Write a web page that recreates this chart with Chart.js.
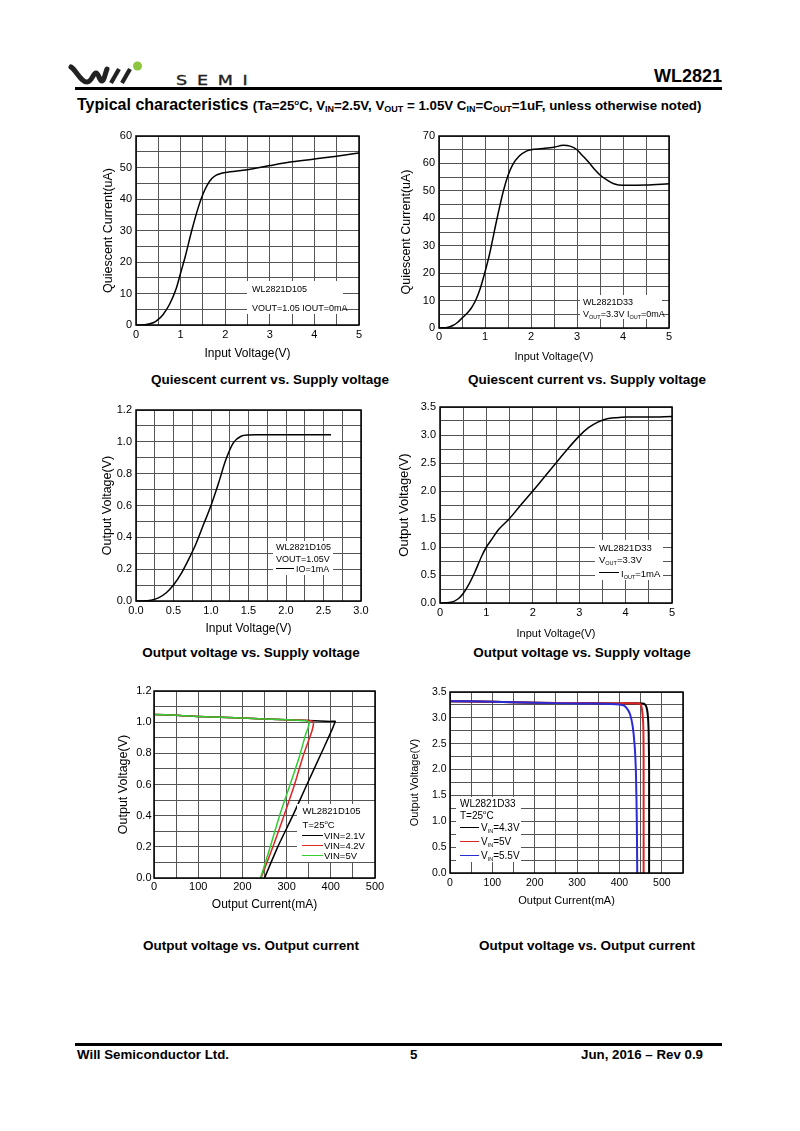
<!DOCTYPE html>
<html><head><meta charset="utf-8">
<script src="https://cdn.jsdelivr.net/npm/chart.js@4.4.1/dist/chart.umd.min.js"></script>
<style>
body{margin:0;background:#fff;}
#page{position:relative;width:800px;height:1131px;font-family:"Liberation Sans",Arial,sans-serif;color:#000;overflow:hidden;background:#fff;}
.abs{position:absolute;}
canvas{position:absolute;}
.cap{position:absolute;font-weight:bold;font-size:13.5px;transform:translate(-50%,-50%);white-space:nowrap;}
.lgt{position:absolute;white-space:nowrap;transform:translateY(-50%);line-height:1;z-index:5;}
.lgl{position:absolute;height:0;z-index:5;}
.sb{font-size:5.5px;position:relative;top:2px;}
.hs{font-size:9px;vertical-align:-2px;}
</style>
</head>
<body>
<div id="page">
  <svg class="abs" style="left:0;top:0" width="260" height="95">
    <path d="M71,67 C76,70 81,82 87,82 C92,82 93,73 96,73 C99,73 99,81 102,81 C104,81 105,74 107,69" fill="none" stroke="#222" stroke-width="5" stroke-linecap="round" stroke-linejoin="round"/>
    <line x1="111" y1="83" x2="119" y2="69" stroke="#222" stroke-width="4.2"/>
    <line x1="122" y1="83" x2="130" y2="69" stroke="#222" stroke-width="4.2"/>
    <circle cx="137.5" cy="66" r="4.5" fill="#8cc63f"/>
    <text transform="translate(176,84.5) scale(1.3,1)" font-family="DejaVu Sans" font-size="13.5" letter-spacing="7.5" fill="#222" stroke="#222" stroke-width="0.3">SEMI</text>
  </svg>
  <div class="abs" style="right:78px;top:66px;font-weight:bold;font-size:18px;">WL2821</div>
  <div class="abs" style="left:75px;top:87px;width:647px;height:3px;background:#000;"></div>
  <div class="abs" style="left:77px;top:96px;font-weight:bold;white-space:nowrap;">
    <span style="font-size:16px;">Typical characteristics</span>
    <span style="font-size:13.3px;">(Ta=25<sup style="font-size:8px;">o</sup>C, V<span class="hs">IN</span>=2.5V, V<span class="hs">OUT</span> = 1.05V C<span class="hs">IN</span>=C<span class="hs">OUT</span>=1uF, unless otherwise noted)</span>
  </div>

  <div class="cap" style="left:270px;top:379px;">Quiescent current vs. Supply voltage</div>
  <div class="cap" style="left:587px;top:379px;">Quiescent current vs. Supply voltage</div>
  <div class="cap" style="left:251px;top:652px;">Output voltage vs. Supply voltage</div>
  <div class="cap" style="left:582px;top:652px;">Output voltage vs. Supply voltage</div>
  <div class="cap" style="left:251px;top:945px;">Output voltage vs. Output current</div>
  <div class="cap" style="left:587px;top:945px;">Output voltage vs. Output current</div>

  <div class="abs" style="left:75px;top:1043px;width:647px;height:3px;background:#000;"></div>
  <div class="abs" style="left:77px;top:1047px;font-weight:bold;font-size:13.3px;">Will Semiconductor Ltd.</div>
  <div class="abs" style="left:410px;top:1047px;font-weight:bold;font-size:13.3px;">5</div>
  <div class="abs" style="right:97px;top:1047px;font-weight:bold;font-size:13.3px;">Jun, 2016 – Rev 0.9</div>
</div>
<script>
// ---------- DATA ----------
// Chart 1: WL2821D105 quiescent current vs input voltage
const c1_vin = [0,0.2,0.4,0.5,0.6,0.75,0.9,1.0,1.1,1.25,1.4,1.5,1.6,1.7,1.8,1.9,2.0,2.5,3.0,3.5,4.0,4.5,5.0];
const c1_iq  = [0,0.1,0.8,1.8,3.2,6.5,11.5,16.5,21.5,30,37.5,41.5,44.5,46.5,47.6,48.1,48.4,49.3,50.6,51.8,52.7,53.6,54.6];
const c1_xLabels = ['0','1','2','3','4','5'];
const c1_yLabels = ['0','10','20','30','40','50','60'];

// Chart 2: WL2821D33 quiescent current vs input voltage
const c2_vin = [0,0.2,0.3,0.4,0.5,0.6,0.7,0.8,0.9,1.0,1.1,1.25,1.4,1.5,1.6,1.75,1.9,2.0,2.25,2.5,2.7,2.85,3.0,3.1,3.25,3.4,3.5,3.65,3.8,4.0,4.5,5.0];
const c2_iq  = [0,0.3,0.9,2.0,3.6,5.2,7.2,10.2,14.6,20.4,27,39,50,55.6,59.5,62.8,64.5,65,65.4,65.9,66.6,66.3,65,63.2,60.5,57.5,55.8,54,52.6,52,52.1,52.6];
const c2_xLabels = ['0','1','2','3','4','5'];
const c2_yLabels = ['0','10','20','30','40','50','60','70'];

// Chart 3: WL2821D105 output voltage vs input voltage
const c3_vin  = [0,0.1,0.2,0.3,0.4,0.5,0.6,0.7,0.8,0.9,1.0,1.1,1.2,1.3,1.4,1.5,1.6,2.0,2.6];
const c3_vout = [0,0,0.005,0.02,0.05,0.1,0.17,0.26,0.36,0.48,0.6,0.74,0.89,0.995,1.035,1.043,1.044,1.044,1.044];
const c3_xLabels = ['0.0','0.5','1.0','1.5','2.0','2.5','3.0'];
const c3_yLabels = ['0.0','0.2','0.4','0.6','0.8','1.0','1.2'];

// Chart 4: WL2821D33 output voltage vs input voltage
const c4_vin  = [0,0.2,0.3,0.4,0.5,0.6,0.75,0.9,1.0,1.1,1.25,1.5,1.75,2.0,2.25,2.5,2.75,3.0,3.2,3.4,3.6,3.8,4.0,4.5,5.0];
const c4_vout = [0,0.01,0.03,0.08,0.17,0.3,0.55,0.84,1.0,1.12,1.3,1.51,1.76,2.0,2.25,2.5,2.75,2.98,3.13,3.23,3.29,3.31,3.32,3.32,3.33];
const c4_xLabels = ['0','1','2','3','4','5'];
const c4_yLabels = ['0.0','0.5','1.0','1.5','2.0','2.5','3.0','3.5'];

// Chart 5: WL2821D105 output voltage vs output current
const c5_names = ['VIN=2.1V','VIN=4.2V','VIN=5V'];
const c5_i21 = [0,50,100,200,300,350,400,410,380,346,314,280,250];
const c5_v21 = [1.05,1.045,1.036,1.026,1.016,1.01,1.005,1.004,0.81,0.6,0.4,0.2,0];
const c5_i42 = [0,50,100,200,300,350,357,361,358,352,337,318,294,269,242];
const c5_v42 = [1.05,1.045,1.036,1.026,1.016,1.01,1.008,1.0,0.95,0.9,0.78,0.6,0.4,0.2,0];
const c5_i5  = [0,50,100,200,300,340,349,351,348,344,329,308,284,263,241];
const c5_v5  = [1.05,1.045,1.036,1.026,1.016,1.01,1.004,0.99,0.96,0.93,0.78,0.6,0.4,0.2,0];
const c5_xLabels = ['0','100','200','300','400','500'];
const c5_yLabels = ['0.0','0.2','0.4','0.6','0.8','1.0','1.2'];

// Chart 6: WL2821D33 output voltage vs output current
const c6_names = ['VIN=4.3V','VIN=5V','VIN=5.5V'];
const c6_i43 = [0,100,200,300,400,455,460,464,467,469,470,470];
const c6_v43 = [3.32,3.31,3.29,3.285,3.28,3.28,3.26,3.2,3.05,2.7,2.0,0];
const c6_i5  = [0,100,200,300,400,445,450,453,456,457,457];
const c6_v5  = [3.32,3.31,3.29,3.285,3.28,3.28,3.26,3.18,2.9,2.3,0];
const c6_i55 = [0,50,100,150,200,300,380,400,410,418,425,431,436,439,441,442];
const c6_v55 = [3.32,3.32,3.31,3.30,3.29,3.28,3.27,3.26,3.24,3.18,3.07,2.85,2.45,1.9,1.0,0];
const c6_xLabels = ['0','100','200','300','400','500'];
const c6_yLabels = ['0.0','0.5','1.0','1.5','2.0','2.5','3.0','3.5'];

// ---------- RENDERING ----------
const FONT = '"Liberation Sans", Arial, sans-serif';
const page = document.getElementById('page');
const pts = (xs, ys) => xs.map((x, i) => ({x: x, y: ys[i]}));
const labelCb = (labels) => (v) => {
  const f = labels.find(l => Math.abs(parseFloat(l) - v) < 1e-6);
  return f === undefined ? '' : f;
};
const framePlugin = {
  id: 'frame',
  afterDatasetsDraw(chart, args, opts) {
    const b = opts.box;
    if (!b) return;
    const ctx = chart.ctx;
    ctx.save();
    ctx.fillStyle = '#fff';
    ctx.fillRect(b[0], b[1], b[2], b[3]);
    ctx.restore();
  },
  afterDraw(chart) {
    const {ctx, chartArea: a} = chart;
    ctx.save();
    ctx.strokeStyle = '#000';
    ctx.lineWidth = 1.5;
    ctx.strokeRect(a.left, a.top, a.right - a.left, a.bottom - a.top);
    ctx.restore();
  }
};

function makeChart(c) {
  const ylh = c.yTitleSize * 1.2, xlh = c.xTitleSize * 1.2;
  const left = Math.round(c.yTitleX - ylh / 2);
  const bottom = Math.round(c.xTitleY + xlh / 2);
  const top = c.plot.t - 12;
  const right = c.plot.r + 18;
  const yAxisW = c.plot.l - left;
  const xAxisH = bottom - c.plot.b;
  const cv = document.createElement('canvas');
  cv.width = right - left; cv.height = bottom - top;
  cv.style.left = left + 'px'; cv.style.top = top + 'px';
  cv.style.width = (right - left) + 'px'; cv.style.height = (bottom - top) + 'px';
  page.insertBefore(cv, page.firstChild);
  const gridCol = '#555';
  const box = c.box ? [c.box[0] - left, c.box[1] - top, c.box[2], c.box[3]] : null;
  new Chart(cv, {
    type: 'scatter',
    data: {datasets: c.datasets.map(d => Object.assign({showLine: true, pointRadius: 0, borderWidth: c.lw || 1.5, fill: false}, d))},
    options: {
      responsive: false, animation: false,
      layout: {padding: {top: 12, right: 18, left: 0, bottom: 0}},
      plugins: {legend: {display: false}, tooltip: {enabled: false}, frame: {box: box}},
      scales: {
        x: {
          type: 'linear', min: c.x.min, max: c.x.max,
          ticks: {stepSize: c.x.step, autoSkip: false, maxRotation: 0, color: '#000', padding: c.padX,
                  font: {family: FONT, size: c.tickSize}, callback: labelCb(c.x.labels)},
          grid: {color: gridCol, lineWidth: 1, drawTicks: false},
          border: {display: false},
          title: {display: true, text: c.x.title, color: '#000', padding: 0, font: {family: FONT, size: c.xTitleSize}},
          afterFit(s) { s.height = xAxisH; }
        },
        y: {
          type: 'linear', min: c.y.min, max: c.y.max,
          ticks: {stepSize: c.y.step, autoSkip: false, color: '#000', padding: c.padY,
                  font: {family: FONT, size: c.tickSize}, callback: labelCb(c.y.labels)},
          grid: {color: gridCol, lineWidth: 1, drawTicks: false},
          border: {display: false},
          title: {display: true, text: c.y.title, color: '#000', padding: 0, font: {family: FONT, size: c.yTitleSize}},
          afterFit(s) { s.width = yAxisW; }
        }
      }
    },
    plugins: [framePlugin]
  });
}

const BLK = '#000', RED = '#e02424', GRN = '#33cc33', BLU = '#2b2bd6';
const MONO = {cubicInterpolationMode: 'monotone'};

makeChart({plot: {l: 136, t: 136, r: 359, b: 325}, yTitleX: 108, xTitleY: 354, xTitleSize: 12, yTitleSize: 12.5, tickSize: 11, padX: 3.4, padY: 4,
  box: [247, 281, 96, 33],
  x: {min: 0, max: 5, step: 0.5, labels: c1_xLabels, title: 'Input Voltage(V)'},
  y: {min: 0, max: 60, step: 5, labels: c1_yLabels, title: 'Quiescent Current(uA)'},
  datasets: [Object.assign({data: pts(c1_vin, c1_iq), borderColor: BLK}, MONO)]});

makeChart({plot: {l: 439, t: 136, r: 669, b: 328}, yTitleX: 406, xTitleY: 357, xTitleSize: 11, yTitleSize: 12.5, tickSize: 11, padX: 2.4, padY: 4,
  box: [580, 295, 82, 24],
  x: {min: 0, max: 5, step: 0.5, labels: c2_xLabels, title: 'Input Voltage(V)'},
  y: {min: 0, max: 70, step: 5, labels: c2_yLabels, title: 'Quiescent Current(uA)'},
  datasets: [Object.assign({data: pts(c2_vin, c2_iq), borderColor: BLK}, MONO)]});

makeChart({plot: {l: 136, t: 410, r: 361, b: 601}, yTitleX: 107, xTitleY: 629, xTitleSize: 12, yTitleSize: 12.5, tickSize: 11, padX: 3.1, padY: 4,
  box: [273, 541, 60, 34],
  x: {min: 0, max: 3, step: 0.25, labels: c3_xLabels, title: 'Input Voltage(V)'},
  y: {min: 0, max: 1.2, step: 0.1, labels: c3_yLabels, title: 'Output Voltage(V)'},
  datasets: [Object.assign({data: pts(c3_vin, c3_vout), borderColor: BLK}, MONO)]});

makeChart({plot: {l: 440, t: 407, r: 672, b: 603}, yTitleX: 405, xTitleY: 634, xTitleSize: 11, yTitleSize: 13, tickSize: 11, padX: 3.4, padY: 4,
  box: [595, 540, 68, 40],
  x: {min: 0, max: 5, step: 0.5, labels: c4_xLabels, title: 'Input Voltage(V)'},
  y: {min: 0, max: 3.5, step: 0.25, labels: c4_yLabels, title: 'Output Voltage(V)'},
  datasets: [Object.assign({data: pts(c4_vin, c4_vout), borderColor: BLK}, MONO)]});

// datasets listed top-most first (Chart.js draws index 0 on top)
makeChart({plot: {l: 154, t: 691, r: 375, b: 878}, yTitleX: 123, xTitleY: 905, xTitleSize: 12, yTitleSize: 12.5, tickSize: 11, padX: 2.4, padY: 2.5,
  box: [297, 804, 78, 58],
  x: {min: 0, max: 500, step: 50, labels: c5_xLabels, title: 'Output Current(mA)'},
  y: {min: 0, max: 1.2, step: 0.1, labels: c5_yLabels, title: 'Output Voltage(V)'},
  datasets: [
    {label: c5_names[2], data: pts(c5_i5, c5_v5), borderColor: GRN, tension: 0.2},
    {label: c5_names[1], data: pts(c5_i42, c5_v42), borderColor: RED, tension: 0.2},
    {label: c5_names[0], data: pts(c5_i21, c5_v21), borderColor: BLK, tension: 0.2}
  ]});

makeChart({plot: {l: 450, t: 692, r: 683, b: 873}, yTitleX: 415, xTitleY: 901, xTitleSize: 11, yTitleSize: 11, tickSize: 10.5, padX: 3.4, padY: 3.5, lw: 2,
  box: [456, 797, 65, 65],
  x: {min: 0, max: 550, step: 50, labels: c6_xLabels, title: 'Output Current(mA)'},
  y: {min: 0, max: 3.5, step: 0.25, labels: c6_yLabels, title: 'Output Voltage(V)'},
  datasets: [
    {label: c6_names[2], data: pts(c6_i55, c6_v55), borderColor: BLU, tension: 0.15},
    {label: c6_names[1], data: pts(c6_i5, c6_v5), borderColor: RED, tension: 0.15},
    {label: c6_names[0], data: pts(c6_i43, c6_v43), borderColor: BLK, tension: 0.15}
  ]});

// ---------- annotation texts ----------
function note(items, size) {
  items.forEach(it => {
    if (it.line) {
      const l = document.createElement('div');
      l.className = 'lgl';
      l.style.cssText = `left:${it.line[0]}px;top:${it.line[2] - 0.75}px;width:${it.line[1] - it.line[0]}px;border-top:1.5px solid ${it.color || '#000'};`;
      page.appendChild(l);
    }
    if (it.html) {
      const t = document.createElement('div');
      t.className = 'lgt';
      t.style.cssText = `left:${it.x}px;top:${it.y}px;font-size:${size}px;`;
      t.innerHTML = it.html;
      page.appendChild(t);
    }
  });
}
note([
  {x: 252, y: 289, html: 'WL2821D105'},
  {x: 252, y: 307.5, html: 'VOUT=1.05 IOUT=0mA'}], 9);
note([
  {x: 583, y: 301.7, html: 'WL2821D33'},
  {x: 583, y: 313.5, html: 'V<span class="sb">OUT</span>=3.3V I<span class="sb">OUT</span>=0mA'}], 9);
note([
  {x: 276, y: 547, html: 'WL2821D105'},
  {x: 276, y: 558.5, html: 'VOUT=1.05V'},
  {x: 296, y: 569, html: 'IO=1mA', line: [276, 294, 569]}], 9);
note([
  {x: 599, y: 547.5, html: 'WL2821D33'},
  {x: 599, y: 560, html: 'V<span class="sb">OUT</span>=3.3V'},
  {x: 621, y: 574, html: 'I<span class="sb">OUT</span>=1mA', line: [599, 619, 573]}], 9.5);
note([
  {x: 302.5, y: 811, html: 'WL2821D105'},
  {x: 302.5, y: 824, html: 'T=25<sup style="font-size:6px">o</sup>C'},
  {x: 324, y: 836, html: c5_names[0], line: [302, 323, 836], color: BLK},
  {x: 324, y: 846, html: c5_names[1], line: [302, 323, 846], color: RED},
  {x: 324, y: 856, html: c5_names[2], line: [302, 323, 856], color: GRN}], 9.5);
note([
  {x: 460, y: 804, html: 'WL2821D33'},
  {x: 460, y: 815, html: 'T=25<sup style="font-size:6px">o</sup>C'},
  {x: 481, y: 828, html: 'V<span class="sb">IN</span>=4.3V', line: [460, 479, 828], color: BLK},
  {x: 481, y: 842, html: 'V<span class="sb">IN</span>=5V', line: [460, 479, 842], color: RED},
  {x: 481, y: 856, html: 'V<span class="sb">IN</span>=5.5V', line: [460, 479, 856], color: BLU}], 10);
</script>
</body></html>
